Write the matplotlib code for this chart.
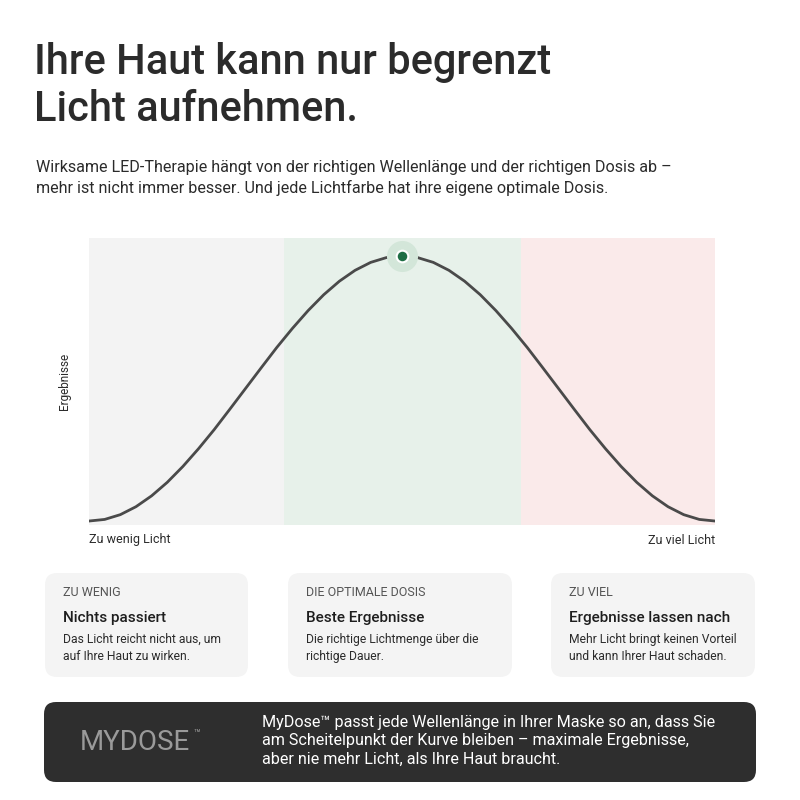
import matplotlib
matplotlib.use("Agg")
import matplotlib.pyplot as plt
from matplotlib.patches import FancyBboxPatch

plt.rcParams['font.family'] = ['Roboto', 'DejaVu Sans']

dose = [i * 2.5 for i in range(41)]
result = [0, 0.6, 2.4, 5.4, 9.5, 14.6, 20.6, 27.3, 34.5, 42.2, 50, 57.8, 65.5, 72.7, 79.4,
          85.4, 90.5, 94.6, 97.6, 99.4, 100, 99.4, 97.6, 94.6, 90.5, 85.4, 79.4, 72.7, 65.5,
          57.8, 50, 42.2, 34.5, 27.3, 20.6, 14.6, 9.5, 5.4, 2.4, 0.6, 0]
zones = [(0, 31.2, '#f3f3f3'), (31.2, 69.0, '#e7f1ea'), (69.0, 100, '#faeaea')]
peak_x, peak_y = 50, 100

title = "Ihre Haut kann nur begrenzt\nLicht aufnehmen."
subtitle = ("Wirksame LED-Therapie hängt von der richtigen Wellenlänge und der richtigen Dosis ab –\n"
            "mehr ist nicht immer besser. Und jede Lichtfarbe hat ihre eigene optimale Dosis.")
cards = [("ZU WENIG", "Nichts passiert", "Das Licht reicht nicht aus, um\nauf Ihre Haut zu wirken."),
         ("DIE OPTIMALE DOSIS", "Beste Ergebnisse", "Die richtige Lichtmenge über die\nrichtige Dauer."),
         ("ZU VIEL", "Ergebnisse lassen nach", "Mehr Licht bringt keinen Vorteil\nund kann Ihrer Haut schaden.")]
footer = ("MyDose™ passt jede Wellenlänge in Ihrer Maske so an, dass Sie\n"
          "am Scheitelpunkt der Kurve bleiben – maximale Ergebnisse,\n"
          "aber nie mehr Licht, als Ihre Haut braucht.")

W = H = 800
fig = plt.figure(figsize=(8, 8), dpi=100)
fig.patch.set_facecolor('white')

def T(x, y, s, **kw):
    fig.text(x / W, 1 - y / H, s, **kw)

T(34, 42, title, fontsize=30, color='#2b2b2b', va='top', ha='left', linespacing=1.2, weight='medium')
T(36, 160, subtitle, fontsize=11.6, color='#2b2b2b', va='top', ha='left', linespacing=1.4)

ax = fig.add_axes([89 / W, 1 - 525 / H, 626 / W, 287 / H])
for a, b, c in zones:
    ax.axvspan(a, b, color=c, lw=0, zorder=0)
ax.plot(dose, result, color='#4a4a4a', lw=2, zorder=2, solid_capstyle='round', solid_joinstyle='round')
ax.scatter([peak_x], [peak_y], s=500, color='#d3e6d9', zorder=3, lw=0)
ax.scatter([peak_x], [peak_y], s=70, color='#1f6e45', edgecolors='white', linewidths=1.5, zorder=4)
ax.set_xlim(0, 100)
ax.set_ylim(-1.5, 106.8)
ax.axis('off')

T(64, 381, "Ergebnisse", fontsize=8.5, rotation=90, ha='center', va='center', color='#2b2b2b')
T(89, 540, "Zu wenig Licht", fontsize=9, ha='left', va='center', color='#2b2b2b')
T(715, 540, "Zu viel Licht", fontsize=9, ha='right', va='center', color='#2b2b2b')

boxes = [(45, 248), (288, 512), (551, 755)]
for (x0, x1), (lab, head, body) in zip(boxes, cards):
    p = FancyBboxPatch((x0 / W, 1 - 677 / H), (x1 - x0) / W, 104 / H,
                       boxstyle="round,pad=0,rounding_size=0.015", transform=fig.transFigure,
                       facecolor='#f4f4f4', edgecolor='none')
    fig.patches.append(p)
    T(x0 + 18, 593, lab, fontsize=9, color='#555555', va='center')
    T(x0 + 18, 618, head, fontsize=11, color='#1e1e1e', va='center', weight='medium')
    T(x0 + 18, 648, body, fontsize=8.7, color='#2b2b2b', va='center', linespacing=1.35)

p = FancyBboxPatch((44 / W, 1 - 782 / H), 712 / W, 80 / H,
                   boxstyle="round,pad=0,rounding_size=0.015", transform=fig.transFigure,
                   facecolor='#2e2e2e', edgecolor='none')
fig.patches.append(p)
T(80, 742, "MYDOSE", fontsize=20, color='#9a9a9a', va='center')
T(193, 734, "™", fontsize=8, color='#9a9a9a', va='center')
T(262, 741, footer, fontsize=11.6, color='white', va='center', linespacing=1.3)

fig.savefig('out.png', dpi=100)
